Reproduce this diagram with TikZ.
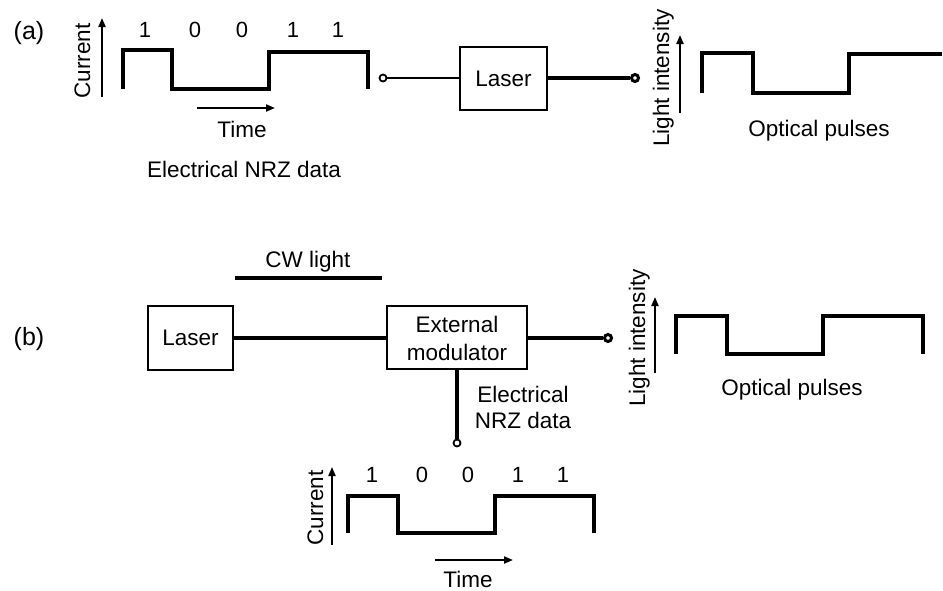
\documentclass[tikz,border=0pt]{standalone}
\usepackage{fontspec}
\setmainfont{Liberation Sans}
\usetikzlibrary{arrows.meta}
\begin{document}
\begin{tikzpicture}[x=1pt,y=-1pt,
  lbl/.style={font=\fontsize{22.5}{26}\selectfont, inner sep=0pt, anchor=base},
  partlbl/.style={lbl, font=\fontsize{25}{29}\selectfont},
  bitlbl/.style={lbl, font=\fontsize{22}{26}\selectfont},
  rlbl/.style={lbl, rotate=90},
  wave/.style={line width=3.5pt, line join=miter, line cap=butt},
  axis/.style={line width=2pt, -{Triangle[length=9pt,width=7pt]}},
  boxnode/.style={draw, line width=2pt, font=\fontsize{22.5}{26}\selectfont, inner sep=0pt, align=center},
  thinlink/.style={line width=2.5pt},
  thicklink/.style={line width=4pt},
  opencirc/.style={circle, draw, line width=1.8pt, fill=white, inner sep=0pt, minimum size=7pt},
  ringcirc/.style={circle, draw, line width=3pt, fill=white, inner sep=0pt, minimum size=7pt}
]
\useasboundingbox (0,0) rectangle (943,590);

% ---------------- (a) ----------------
\node[partlbl] (la) at (29,39) {(a)};
% current axis
\coordinate (caS) at (102,97);
\coordinate (caE) at (102,18);
\draw[axis] (caS) -- (caE);
\node[rlbl] (curA) at (90,61) {Current};
% bits
\node[bitlbl] (a1) at (145,37) {1};
\node[bitlbl] (a2) at (195,37) {0};
\node[bitlbl] (a3) at (242,37) {0};
\node[bitlbl] (a4) at (293,37) {1};
\node[bitlbl] (a5) at (338,37) {1};
% electrical waveform
\draw[wave] (123,89) -- (123,50) -- (172,50) -- (172,89) -- (269,89) -- (269,52) -- (368,52) -- (368,89);
% time axis
\coordinate (taS) at (197,108);
\coordinate (taE) at (275,108);
\draw[axis] (taS) -- (taE);
\node[lbl] (timeA) at (242,137) {Time};
\node[lbl] (nrzA) at (244,177) {Electrical NRZ data};
% laser and connectors
\node[boxnode, minimum width=87pt, minimum height=63pt] (laserA) at (503.5,78.5) {Laser};
\node[opencirc] (inA) at (383,78) {};
\node[ringcirc] (outA) at (635,78) {};
\draw[thinlink] (inA.east) -- (laserA.west |- inA.east);
\draw[thicklink] (laserA.east |- outA.west) -- (outA.west);
% light intensity axis
\coordinate (liaS) at (680,113);
\coordinate (liaE) at (680,35);
\draw[axis] (liaS) -- (liaE);
\node[rlbl] (liA) at (669,78) {Light intensity};
% optical waveform
\draw[wave] (702,93) -- (702,53) -- (753,53) -- (753,93) -- (849,93) -- (849,54) -- (942,54);
\node[lbl] (opA) at (819,136) {Optical pulses};

% ---------------- (b) ----------------
\node[partlbl] (lb) at (29,345) {(b)};
\node[lbl] (cw) at (308,267) {CW light};
\coordinate (cwS) at (235,278);
\coordinate (cwE) at (382,278);
\draw[line width=3.5pt] (cwS) -- (cwE);
\node[boxnode, minimum width=85pt, minimum height=64pt] (laserB) at (190.5,338) {Laser};
\node[boxnode, minimum width=140pt, minimum height=63pt] (mod) at (457,337.5) {};
\node[lbl] (ext) at (457,332) {External};
\node[lbl] (modt) at (457,360) {modulator};
\draw[thicklink] (laserB.east) -- (laserB.east -| mod.west);
\node[ringcirc] (outB) at (608,338) {};
\draw[thicklink] (mod.east |- outB.west) -- (outB.west);
\node[opencirc] (inB) at (457,443) {};
\draw[thicklink] (mod.south) -- (inB.north);
\node[lbl] (nrzB1) at (523,402) {Electrical};
\node[lbl] (nrzB2) at (523,428) {NRZ data};
% light intensity axis b
\coordinate (libS) at (655,373);
\coordinate (libE) at (655,297);
\draw[axis] (libS) -- (libE);
\node[rlbl] (liB) at (645,338) {Light intensity};
% optical waveform b
\draw[wave] (676,354) -- (676,316) -- (727,316) -- (727,354) -- (823,354) -- (823,316) -- (923,316) -- (923,354);
\node[lbl] (opB) at (792,395) {Optical pulses};
% electrical waveform b
\coordinate (cbS) at (332,545);
\coordinate (cbE) at (332,467);
\draw[axis] (cbS) -- (cbE);
\node[rlbl] (curB) at (323,508) {Current};
\node[bitlbl] (b1) at (372,482) {1};
\node[bitlbl] (b2) at (422,482) {0};
\node[bitlbl] (b3) at (468,482) {0};
\node[bitlbl] (b4) at (518,482) {1};
\node[bitlbl] (b5) at (563,482) {1};
\draw[wave] (348,533) -- (348,496) -- (398,496) -- (398,533) -- (495,533) -- (495,496) -- (594,496) -- (594,533);
\coordinate (tbS) at (435,560);
\coordinate (tbE) at (513,560);
\draw[axis] (tbS) -- (tbE);
\node[lbl] (timeB) at (468,587) {Time};
\end{tikzpicture}
\end{document}
